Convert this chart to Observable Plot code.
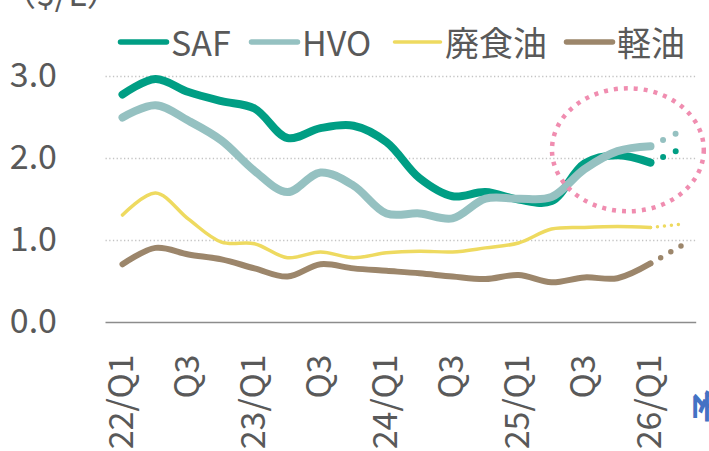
<!DOCTYPE html>
<html><head><meta charset="utf-8">
<script src="https://cdn.jsdelivr.net/npm/d3@7"></script>
<script src="https://cdn.jsdelivr.net/npm/@observablehq/plot@0.6"></script>
<style>
html,body{margin:0;padding:0;background:#fff;overflow:hidden;width:709px;height:451px;}
#wrap{position:relative;width:709px;height:451px;overflow:hidden;font-family:"Noto Sans CJK JP","Noto Sans",sans-serif;color:#595959;}
#wrap svg.chart{position:absolute;left:0;top:0;}
#unit{position:absolute;left:2px;top:-25px;font-size:34px;line-height:1;white-space:nowrap;}
.leg{position:absolute;top:25px;height:34px;display:flex;align-items:center;font-size:34px;line-height:1;white-space:nowrap;}
.leg svg{display:block;margin-right:1px;}
#note{position:absolute;left:690px;top:423px;transform-origin:0 0;transform:rotate(-90deg);font-size:34px;line-height:1;color:#4472C4;white-space:nowrap;font-weight:700;}
</style></head>
<body><div id="wrap"></div>
<script>
// ---- data ----
const quarters = ["22/Q1","22/Q2","22/Q3","22/Q4","23/Q1","23/Q2","23/Q3","23/Q4","24/Q1","24/Q2","24/Q3","24/Q4","25/Q1","25/Q2","25/Q3","25/Q4","26/Q1","26/Q2"];
const tickIndex = [0,2,4,6,8,10,12,14,16];
const tickLabels = ["22/Q1","Q3","23/Q1","Q3","24/Q1","Q3","25/Q1","Q3","26/Q1"];
const yTicks = [0,1,2,3];
const gridValues = [1,2,3];
const seriesNames = ["SAF","HVO","廃食油","軽油"];
const seriesColors = ["#009E84","#95C1C1","#EEDA60","#9C866B"];
const saf      = [2.78,2.97,2.81,2.70,2.61,2.25,2.37,2.40,2.20,1.76,1.54,1.59,1.50,1.48,1.94,2.04,1.95];
const hvo      = [2.50,2.65,2.46,2.22,1.85,1.59,1.83,1.67,1.33,1.33,1.27,1.51,1.51,1.53,1.87,2.09,2.15];
const wasteOil = [1.31,1.58,1.26,0.98,0.96,0.79,0.86,0.79,0.85,0.87,0.86,0.91,0.97,1.14,1.16,1.17,1.16];
const lightOil = [0.71,0.91,0.83,0.77,0.66,0.56,0.71,0.66,0.63,0.60,0.56,0.53,0.58,0.49,0.55,0.54,0.72];
// outlook for 26/Q2 (dotted)
const safOutlook = [1.95,2.13];
const hvoOutlook = [2.15,2.35];
const wasteOilOutlook = [1.16,1.20];
const lightOilOutlook = [0.72,0.95];
const outlookIndex = [16,17];
const unitLabel = "（$/L）";
const noteLabel = "予";
// highlight ellipse (data units: quarter index, $/L)
const highlight = {q:15.33, v:2.10, rq:2.3, rv:0.75};

const toRows = (vals, idx) => vals.map((v,i)=>({q: idx ? idx[i] : i, v}));
const solid = [saf,hvo,wasteOil,lightOil];
const outlook = [safOutlook,hvoOutlook,wasteOilOutlook,lightOilOutlook];
const widths = [8,8,3.5,6];
const dotW = [6,6,3.5,5.5];
const dotGap = [13.8,14,7,11.7];

const lineMarks = [];
solid.forEach((s,k)=>{
  lineMarks.push(Plot.line(toRows(s), {x:"q", y:"v", stroke: seriesColors[k], strokeWidth: widths[k], curve:"catmull-rom", strokeLinecap:"round", strokeLinejoin:"round"}));
});
outlook.forEach((s,k)=>{
  lineMarks.push(Plot.line(toRows(s, outlookIndex), {x:"q", y:"v", stroke: seriesColors[k], strokeWidth: dotW[k], strokeLinecap:"round", strokeDasharray:`0 ${dotGap[k]}`}));
});

const plot = Plot.plot({
  width: 709, height: 451,
  marginLeft: 105.5, marginRight: 12.8, marginTop: 76, marginBottom: 129,
  x: {type:"linear", domain:[-0.5, 17.4]},
  y: {type:"linear", domain:[0,3]},
  style: {fontFamily:'"Noto Sans CJK JP","Noto Sans",sans-serif', color:"#595959", background:"transparent", overflow:"visible"},
  marks: [
    Plot.ruleY(gridValues, {stroke:"#c4c4c4", strokeWidth:1.3, strokeDasharray:"1.3 2.4"}),
    Plot.ruleY([0], {stroke:"#8c8c8c", strokeWidth:1.5}),
    Plot.axisY({anchor:"left", ticks: yTicks, tickFormat: d=>d.toFixed(1), tickSize:0, tickPadding:49, fontSize:34, label:null, fill:"#595959"}),
    Plot.axisX({anchor:"bottom", ticks: tickIndex, tickFormat: d=>tickLabels[tickIndex.indexOf(d)], tickSize:0, tickPadding:32, tickRotate:-90, textAnchor:"end", lineAnchor:"middle", fontSize:34, label:null, fill:"#595959"}),
    ...lineMarks
  ]
});
plot.classList.add("chart");
const wrap = document.getElementById("wrap");
wrap.appendChild(plot);

// highlight ellipse positioned with the plot's scales
const sx = plot.scale("x"), sy = plot.scale("y");
const cx = sx.apply(highlight.q), cy = sy.apply(highlight.v);
const rx = Math.abs(sx.apply(highlight.q + highlight.rq) - cx);
const ry = Math.abs(sy.apply(highlight.v + highlight.rv) - cy);
d3.select(plot).append("ellipse")
  .attr("cx", cx).attr("cy", cy).attr("rx", rx).attr("ry", ry)
  .attr("fill","none").attr("stroke","#F08DB0").attr("stroke-width",4.5)
  .attr("stroke-dasharray","4 6");

// unit label
const unit = document.createElement("div");
unit.id = "unit"; unit.textContent = unitLabel; wrap.appendChild(unit);

// legend
const legLeft = [115, 246, 389, 561];
const legSw = [5.5, 5.5, 3.5, 5.5];
seriesNames.forEach((n,k)=>{
  const d = document.createElement("div");
  d.className = "leg"; d.style.left = legLeft[k] + "px";
  d.innerHTML = `<svg width="55" height="10"><line x1="5.5" y1="5" x2="51.5" y2="5" stroke="${seriesColors[k]}" stroke-width="${legSw[k]}" stroke-linecap="round"/></svg><span>${n}</span>`;
  wrap.appendChild(d);
});

// side note
const note = document.createElement("div");
note.id = "note"; note.textContent = noteLabel; wrap.appendChild(note);
</script>
</body></html>
